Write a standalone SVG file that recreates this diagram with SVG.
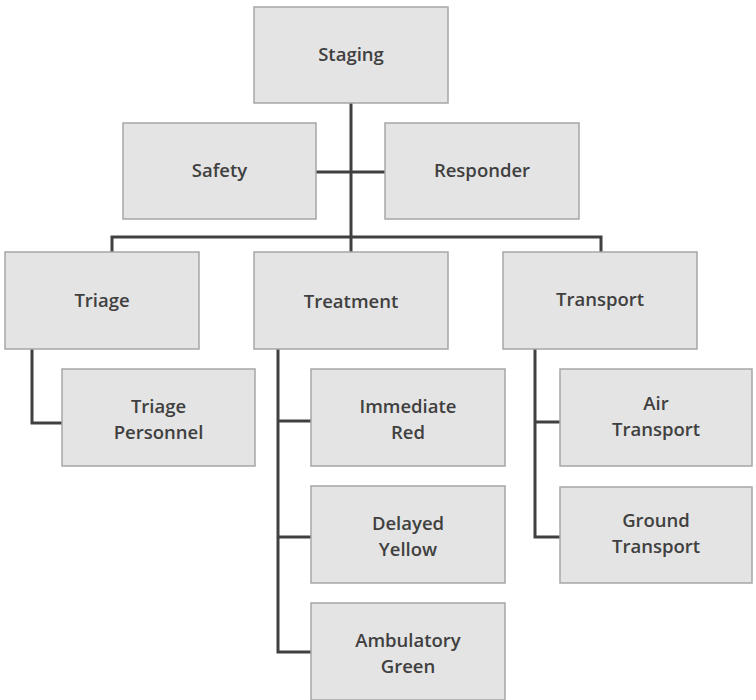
<svg xmlns="http://www.w3.org/2000/svg" width="756" height="700" viewBox="0 0 756 700">
<style>
.box{fill:#e4e4e4;stroke:#a6a6a6;stroke-width:1.5}
.t{font-family:"Open Sans","Noto Sans","Liberation Sans",sans-serif;font-weight:600;font-size:18.5px;fill:#404040;text-anchor:middle;dominant-baseline:central}
.c{fill:none;stroke:#404040;stroke-width:3;stroke-linejoin:miter}
</style>
<rect width="756" height="700" fill="#ffffff"/>
<g id="connectors">
<path class="c" d="M351 103V237"/>
<path class="c" d="M316 172H385"/>
<path class="c" d="M112 252V237H601V252"/>
<path class="c" d="M351 237V252"/>
<path class="c" d="M32 349V423H62"/>
<path class="c" d="M278 349V652H311M278 421H311M278 537H311"/>
<path class="c" d="M535 349V537H560M535 422H560"/>
</g>
<g id="staging"><rect class="box" x="254" y="7" width="194" height="96"/><text class="t" x="351" y="53">Staging</text></g>
<g id="safety"><rect class="box" x="123" y="123" width="193" height="96"/><text class="t" x="219.5" y="169">Safety</text></g>
<g id="responder"><rect class="box" x="385" y="123" width="194" height="96"/><text class="t" x="482" y="169">Responder</text></g>
<g id="triage"><rect class="box" x="5" y="252" width="194" height="97"/><text class="t" x="102" y="299">Triage</text></g>
<g id="treatment"><rect class="box" x="254" y="252" width="194" height="97"/><text class="t" x="351" y="300">Treatment</text></g>
<g id="transport"><rect class="box" x="503" y="252" width="194" height="97"/><text class="t" x="600" y="298">Transport</text></g>
<g id="triage-personnel"><rect class="box" x="62" y="369" width="193" height="97"/><text class="t" x="158.5" y="405">Triage</text><text class="t" x="158.5" y="431">Personnel</text></g>
<g id="immediate-red"><rect class="box" x="311" y="369" width="194" height="97"/><text class="t" x="408" y="405">Immediate</text><text class="t" x="408" y="431">Red</text></g>
<g id="delayed-yellow"><rect class="box" x="311" y="486" width="194" height="97"/><text class="t" x="408" y="522">Delayed</text><text class="t" x="408" y="548">Yellow</text></g>
<g id="ambulatory-green"><rect class="box" x="311" y="603" width="194" height="97"/><text class="t" x="408" y="639">Ambulatory</text><text class="t" x="408" y="665">Green</text></g>
<g id="air-transport"><rect class="box" x="560" y="369" width="192" height="97"/><text class="t" x="656" y="402">Air</text><text class="t" x="656" y="428">Transport</text></g>
<g id="ground-transport"><rect class="box" x="560" y="487" width="192" height="96"/><text class="t" x="656" y="519">Ground</text><text class="t" x="656" y="545">Transport</text></g>
</svg>
